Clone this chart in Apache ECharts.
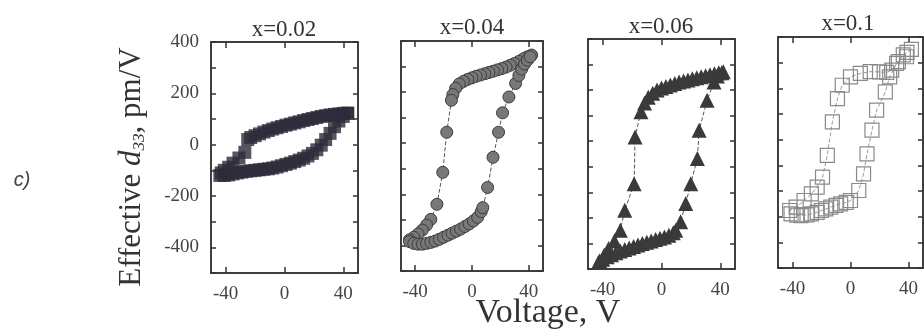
<!DOCTYPE html>
<html>
<head>
<meta charset="utf-8">
<script src="https://cdn.jsdelivr.net/npm/echarts@6/dist/echarts.min.js"></script>
<style>
html, body { margin: 0; padding: 0; background: #fff; }
#chart { width: 924px; height: 329px; }
</style>
</head>
<body>
<div id="chart"></div>
<script>
// panel titles and ticks
var panelTitles = ['x=0.02', 'x=0.04', 'x=0.06', 'x=0.1'];
var voltTicks = [-40, 0, 40];
var d33Labels = [400, 200, 0, -200, -400];

// x=0.02 : [voltage V, d33 pm/V]
var loop002Down = [[43,123],[40,122],[37,120],[34,118],[31,116],[28,113],[25,110],[22,106],[19,102],[16,98],[13,94],[10,89],[7,85],[4,80],[1,76],[-2,71],[-5,66],[-8,61],[-11,55],[-14,49],[-17,42],[-20,35],[-23,28],[-25,20],[-27,-30],[-31,-52],[-35,-72],[-38,-88],[-41,-100],[-43,-110]];
var loop002Up = [[-44,-120],[-41,-120],[-38,-118],[-35,-114],[-32,-110],[-29,-107],[-26,-104],[-23,-102],[-20,-100],[-17,-98],[-14,-96],[-11,-94],[-8,-91],[-5,-87],[-2,-82],[1,-77],[4,-72],[7,-66],[10,-60],[13,-53],[16,-44],[19,-34],[22,-20],[25,-2],[28,20],[31,44],[34,70],[37,92],[40,110],[43,122]];

// x=0.04
var loop004Down = [[42,345],[39,338],[36,330],[33,320],[30,312],[27,305],[24,298],[21,292],[18,287],[15,282],[12,277],[9,272],[6,267],[3,262],[0,256],[-3,250],[-6,242],[-9,232],[-11.5,215],[-13.5,190],[-14.5,168],[-17.8,43],[-20.6,-114],[-24.7,-239],[-29,-298],[-32,-320],[-35,-340],[-38,-355],[-41,-368],[-44,-378]];
var loop004Up = [[-44,-385],[-41,-392],[-38,-395],[-35,-395],[-32,-392],[-29,-388],[-26,-383],[-23,-376],[-20,-368],[-17,-360],[-14,-352],[-11,-344],[-8,-336],[-5,-326],[-2,-316],[1,-304],[4,-290],[6.5,-268],[7.6,-252],[11,-173],[14.8,-55],[18.7,43],[21.5,119],[26,181],[30.7,234],[33,265],[35,290],[37,310],[39,325],[41,338]];

// x=0.06
var loop006Down = [[42,272],[39,268],[36,264],[33,260],[30,256],[27,252],[24,248],[21,244],[18,240],[15,236],[12,232],[9,226],[6,220],[3,214],[0,208],[-3,200],[-6,188],[-9,172],[-11.5,150],[-14,115],[-18,17],[-18.6,-166],[-25,-270],[-28,-348],[-32,-390],[-36,-420],[-39,-445],[-42,-468]];
var loop006Up = [[-43,-475],[-40,-462],[-37,-452],[-34,-444],[-31,-436],[-28,-430],[-25,-424],[-22,-418],[-19,-412],[-16,-406],[-13,-400],[-10,-395],[-7,-390],[-4,-385],[-1,-380],[2,-375],[5,-368],[8,-358],[9.7,-348],[13,-315],[16.5,-244],[19.9,-166],[24.4,-68],[25.6,43],[31,160],[35.7,232],[38,255],[41,268]];

// x=0.1
var loop010Down = [[42,352],[39,340],[36.4,330],[33,304],[28.4,271],[25,262],[20,264],[13.6,265],[6.8,258],[0,245],[-5.7,212],[-9,160],[-12.5,69],[-16,-61],[-19.3,-146],[-23,-185],[-27,-211],[-32,-237],[-37.5,-263],[-42,-276]];
var loop010Up = [[-41,-289],[-37,-294],[-34,-296],[-30,-293],[-27,-289],[-23,-283],[-20,-276],[-17,-270],[-13.6,-263],[-10,-256],[-6.8,-250],[-3,-244],[0,-237],[5.7,-198],[9,-133],[11.4,-55],[14.8,37],[18,115],[24,186],[27,245],[31.8,297],[38.6,323]];

var loops = [
    loop002Down.concat(loop002Up),
    loop004Down.concat(loop004Up),
    loop006Down.concat(loop006Up),
    loop010Down.concat(loop010Up)
];

var grids = [
    { left: 211, top: 42, width: 147, height: 231 },
    { left: 401, top: 41, width: 142, height: 230 },
    { left: 588, top: 39, width: 147, height: 230 },
    { left: 778, top: 37, width: 145, height: 231 }
];
var titlePos = [[284, 30], [472, 28], [661, 27], [848, 24]];

var serif = 'Liberation Serif';
var axisColor = '#333';

var chart = echarts.init(document.getElementById('chart'), null, { renderer: 'canvas' });

var xAxes = [], yAxes = [], series = [], graphics = [];

grids.forEach(function (g, i) {
    g.show = true;
    g.borderColor = axisColor;
    g.borderWidth = 1.5;
    g.backgroundColor = 'transparent';

    // bottom + top voltage axes, ticks only at -40 / 0 / 40
    ['bottom', 'top'].forEach(function (pos) {
        xAxes.push({
            gridIndex: i, type: 'value', position: pos,
            min: -50, max: 50,
            axisLine: { show: true, onZero: false, lineStyle: { color: axisColor, width: 1.5 } },
            axisTick: { show: true, inside: true, length: 6, customValues: voltTicks,
                lineStyle: { color: axisColor, width: 1.5 } },
            axisLabel: { show: pos === 'bottom', customValues: voltTicks, margin: 12,
                fontFamily: serif, fontSize: 19, color: '#444' },
            splitLine: { show: false }
        });
    });
    // left + right d33 axes, ticks every 100
    ['left', 'right'].forEach(function (pos) {
        yAxes.push({
            gridIndex: i, type: 'value', position: pos,
            min: -500, max: 400, interval: 100,
            axisLine: { show: true, onZero: false, lineStyle: { color: axisColor, width: 1.5 } },
            axisTick: { show: true, inside: true, length: 5,
                lineStyle: { color: axisColor, width: 1.5 } },
            axisLabel: { show: i === 0 && pos === 'left', margin: 12,
                fontFamily: serif, fontSize: 19, color: '#444',
                formatter: function (v) { return d33Labels.indexOf(v) >= 0 ? String(v) : ''; } },
            splitLine: { show: false }
        });
    });

    graphics.push({
        type: 'text', x: titlePos[i][0], y: titlePos[i][1],
        style: { text: panelTitles[i], fill: '#333', font: '23px "Liberation Serif"',
            align: 'center', verticalAlign: 'middle', textAlign: 'center', textVerticalAlign: 'middle' }
    });
});

var markerStyles = [
    { type: 'scatter', symbol: 'rect', symbolSize: 13,
      itemStyle: { color: '#2c2c3a' } },
    { type: 'line', symbol: 'circle', symbolSize: 12,
      itemStyle: { color: '#787878', borderColor: '#3c3c3c', borderWidth: 1 },
      lineStyle: { color: '#555', width: 1, type: 'dashed' } },
    { type: 'line', symbol: 'triangle', symbolSize: 15,
      itemStyle: { color: '#3a3a3a', borderColor: '#3a3a3a', borderWidth: 0 },
      lineStyle: { color: '#555', width: 1, type: 'dashed' } },
    { type: 'line', symbol: 'rect', symbolSize: 14,
      itemStyle: { color: 'rgba(255,255,255,0)', borderColor: '#8a8a8a', borderWidth: 1.2 },
      lineStyle: { color: '#999', width: 1, type: 'dashed' } }
];

loops.forEach(function (data, i) {
    var s = Object.assign({
        name: panelTitles[i],
        xAxisIndex: i * 2,
        yAxisIndex: i * 2,
        data: data,
        showSymbol: true,
        showAllSymbol: true,
        smooth: false,
        animation: false
    }, markerStyles[i]);
    series.push(s);
});

graphics.push({
    type: 'text', x: 548, y: 313,
    style: { text: 'Voltage, V', fill: '#333', font: '34px "Liberation Serif"',
        align: 'center', verticalAlign: 'middle', textAlign: 'center', textVerticalAlign: 'middle' }
});
graphics.push({
    type: 'text', x: 22, y: 180,
    style: { text: 'c)', fill: '#444', font: 'italic 20px "Liberation Sans"',
        align: 'center', verticalAlign: 'middle', textAlign: 'center', textVerticalAlign: 'middle' }
});
graphics.push({
    type: 'text', x: 132, y: 167, rotation: Math.PI / 2,
    style: {
        text: '{a|Effective }{i|d}{s|33}{a|, pm/V}',
        fill: '#333',
        align: 'center', verticalAlign: 'middle', textAlign: 'center', textVerticalAlign: 'middle',
        rich: {
            a: { fontFamily: serif, fontSize: 31, color: '#333', lineHeight: 34 },
            i: { fontFamily: serif, fontSize: 31, fontStyle: 'italic', color: '#333', lineHeight: 34 },
            s: { fontFamily: serif, fontSize: 17, fontStyle: 'italic', color: '#333', lineHeight: 34,
                 padding: [15, 0, 0, 0] }
        }
    }
});

chart.setOption({
    backgroundColor: '#fff',
    animation: false,
    grid: grids,
    xAxis: xAxes,
    yAxis: yAxes,
    series: series,
    graphic: graphics
});
</script>
</body>
</html>
